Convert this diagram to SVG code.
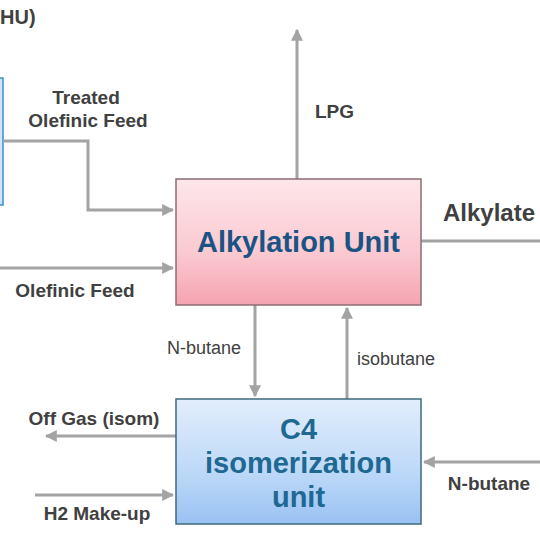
<svg xmlns="http://www.w3.org/2000/svg" width="540" height="540" viewBox="0 0 540 540">
<defs>
<linearGradient id="pink" x1="0" y1="0" x2="0" y2="1">
<stop offset="0" stop-color="#fde6ea"/>
<stop offset="0.6" stop-color="#fbc8d0"/>
<stop offset="1" stop-color="#f5a3b0"/>
</linearGradient>
<linearGradient id="blue" x1="0" y1="0" x2="0" y2="1">
<stop offset="0" stop-color="#e2eefc"/>
<stop offset="0.6" stop-color="#bcd8f8"/>
<stop offset="1" stop-color="#99c2f2"/>
</linearGradient>
<marker id="ah" viewBox="0 0 10 10" refX="9" refY="5" markerWidth="4" markerHeight="4" orient="auto" markerUnits="strokeWidth">
<path d="M0,0 L10,5 L0,10 z" fill="#a3a3a3"/>
</marker>
</defs>
<style>
.ln{fill:none;stroke:#a3a3a3;stroke-width:3}
.lb{font-family:"Liberation Sans",Arial,sans-serif;font-weight:bold;font-size:19px;fill:#404040}
.ls{font-family:"Liberation Sans",Arial,sans-serif;font-size:18px;fill:#404040}
.unitA{font-family:"Liberation Sans",Arial,sans-serif;font-weight:bold;font-size:29px;fill:#1a5484}
.unitC{font-family:"Liberation Sans",Arial,sans-serif;font-weight:bold;font-size:29px;fill:#1e6892}
</style>
<rect width="540" height="540" fill="#ffffff"/>
<g id="left-unit">
<rect x="-20" y="78" width="23" height="127" fill="#cfe3fa" stroke="#3a8fd0" stroke-width="1.5"/>
<text class="lb" x="0" y="24" style="font-size:20px">HU)</text>
</g>
<g id="connectors">
<path class="ln" d="M3,141 H88 V210 H173" marker-end="url(#ah)"/>
<path class="ln" d="M0,268 H173" marker-end="url(#ah)"/>
<path class="ln" d="M297,179 V30" marker-end="url(#ah)"/>
<path class="ln" d="M421,241 H540"/>
<path class="ln" d="M255,305 V396" marker-end="url(#ah)"/>
<path class="ln" d="M347,399 V308" marker-end="url(#ah)"/>
<path class="ln" d="M176,436 H46" marker-end="url(#ah)"/>
<path class="ln" d="M35,495 H173" marker-end="url(#ah)"/>
<path class="ln" d="M540,462 H424" marker-end="url(#ah)"/>
</g>
<g id="labels">
<text class="lb" x="86" y="104" text-anchor="middle">Treated</text>
<text class="lb" x="88" y="127" text-anchor="middle">Olefinic Feed</text>
<text class="lb" x="75" y="297" text-anchor="middle">Olefinic Feed</text>
<text class="lb" x="315" y="118">LPG</text>
<text class="lb" x="443" y="221" style="font-size:24px">Alkylate</text>
<text class="ls" x="167" y="354">N-butane</text>
<text class="ls" x="357" y="365">isobutane</text>
<text class="lb" x="94" y="425" text-anchor="middle">Off Gas (isom)</text>
<text class="lb" x="97" y="520" text-anchor="middle">H2 Make-up</text>
<text class="lb" x="489" y="490" text-anchor="middle">N-butane</text>
</g>
<g id="alkylation-unit">
<rect x="176" y="179" width="245" height="126" fill="url(#pink)" stroke="#8c6e74" stroke-width="1.5"/>
<text class="unitA" x="298.5" y="252" text-anchor="middle">Alkylation Unit</text>
</g>
<g id="c4-isomerization-unit">
<rect x="176" y="399" width="245" height="125" fill="url(#blue)" stroke="#3e6b7e" stroke-width="1.5"/>
<text class="unitC" x="298.5" y="439" text-anchor="middle">C4</text>
<text class="unitC" x="298.5" y="473" text-anchor="middle">isomerization</text>
<text class="unitC" x="298.5" y="507" text-anchor="middle">unit</text>
</g>
</svg>
